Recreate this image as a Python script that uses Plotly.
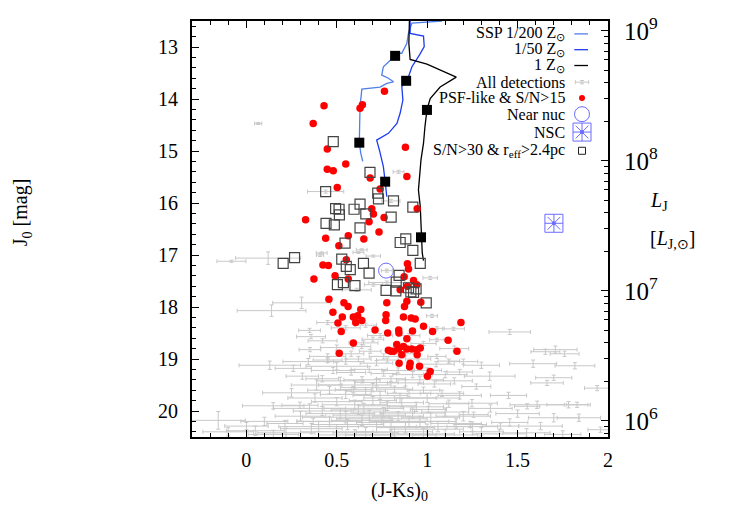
import plotly.graph_objects as go

FONT = "Liberation Serif, Times New Roman, serif"

# ---------------- SSP tracks ----------------
ssp200_x = [1.082, 0.916, 0.897, 0.888, 0.860, 0.832, 0.823, 0.758, 0.749, 0.786, 0.814, 0.777, 0.740, 0.639, 0.629, 0.625, 0.633, 0.644]
ssp200_y = [12.50, 12.54, 12.73, 12.93, 13.12, 13.12, 13.17, 13.38, 13.54, 13.60, 13.67, 13.70, 13.77, 13.81, 14.15, 14.84, 15.04, 15.20]

ssp50_x = [0.906, 0.906, 0.980, 0.984, 0.958, 0.916, 0.897, 0.884, 0.860, 0.866, 0.851, 0.833, 0.786, 0.721, 0.736, 0.758, 0.768, 0.777]
ssp50_y = [12.50, 12.74, 12.79, 12.99, 13.15, 13.38, 13.57, 13.65, 13.76, 14.02, 14.27, 14.47, 14.66, 14.79, 14.98, 15.30, 15.59, 15.88]

ssp1_x = [0.902, 0.899, 0.906, 0.999, 1.161, 1.072, 1.017, 0.999, 0.988, 0.980, 0.966, 0.958, 0.952, 0.962, 0.966, 0.966, 0.973, 0.980]
ssp1_y = [12.50, 12.93, 13.24, 13.33, 13.58, 13.77, 13.99, 14.21, 14.53, 14.85, 15.17, 15.49, 15.75, 16.07, 16.45, 16.66, 16.96, 17.11]

# age markers on the tracks
age_x = [0.823, 0.625, 0.884, 0.768, 0.999, 0.966]
age_y = [13.17, 14.84, 13.65, 15.59, 14.21, 16.66]

# ---------------- All detections (with errors) ----------------
all_x = [0.066, 0.842, 0.439, 0.800, 0.638, 0.702, 0.620, 0.417, -0.082, 0.121, 0.408, 0.777, 1.017, 0.611, 0.703, 0.777,
         0.306, 0.140, 1.027, 1.054, 1.146, 1.457, 0.358, 0.422, 0.352, 0.648, 0.638, 0.685, 1.054, 1.054,
         1.709, 1.654, 1.760, 1.586, 1.817, 1.346, 1.700, 1.663, 1.272, 1.940, 1.082, 1.608, 1.553, 1.782, 1.829,
         1.248, 1.007, 1.257, 1.700, 1.839, 1.457, 1.238, 1.405, 1.627, 1.959,
         0.343, 0.130, 0.260, 0.310, 0.500, 0.389, 0.592, 0.149, 0.297, -0.155, 0.001, 0.214, 0.370,
         0.45, 0.55, 0.62, 0.72, 0.78, 0.95, 1.05, 1.12, 0.48, 0.58, 0.68, 0.76, 0.84, 0.92, 1.00, 1.10, 1.18,
         0.42, 0.52, 0.64, 0.72, 0.80, 0.88, 0.96, 1.04, 1.15, 0.46, 0.55, 0.66, 0.74, 0.82, 0.90, 0.98, 1.18,
         0.38, 0.50, 0.60, 0.70, 0.78, 0.86, 0.94, 1.12, 0.42, 0.52, 0.62, 0.68, 0.76, 0.84, 0.92, 1.02, 1.10,
         1.20, 0.30, 0.46, 0.56, 0.64, 0.72, 0.80, 0.88, 0.96, 1.06, 1.16, 0.36, 0.50, 0.66, 0.82, 0.98, 1.30,
         0.22, 0.10, 0.55, 0.66, 0.74, 0.90, 0.98, 0.50, 0.58, 0.76, 0.88, 1.15, 0.45,
         0.60, 0.70, 0.85, 0.65, 0.75, 0.90, 0.55, 1.00, 0.40, 0.80, 0.60, 1.10, 0.35, 1.00, 0.25,
         1.25, 1.40, 1.55, 1.75, 0.15, 0.05, -0.10, 1.35, 1.45, 1.50, 0.45, 0.70, 0.35, 1.20, 1.30]
all_y = [14.47, 15.40, 15.78, 15.96, 16.90, 17.02, 16.95, 16.96, 17.12, 17.06, 17.00, 17.30, 17.44, 17.67, 17.57, 17.53,
         17.92, 18.07, 18.17, 18.41, 18.42, 18.48, 18.57, 18.65, 18.82, 18.69, 18.76, 18.85, 18.63, 18.95,
         18.82, 18.86, 18.90, 19.09, 19.13, 19.33, 19.36, 19.46, 19.53, 19.56, 19.66, 19.88, 19.91, 19.88, 19.88,
         19.85, 19.97, 20.07, 20.13, 20.13, 20.22, 20.26, 20.29, 20.29, 20.36,
         19.05, 19.12, 19.18, 19.33, 19.14, 19.50, 19.59, 19.90, 19.89, 20.18, 20.29, 20.24, 20.20,
         19.02, 19.05, 19.00, 19.08, 19.02, 19.00, 19.10, 19.04, 19.22, 19.26, 19.20, 19.28, 19.22, 19.30, 19.22, 19.30, 19.25,
         19.38, 19.42, 19.40, 19.45, 19.38, 19.46, 19.40, 19.48, 19.42, 19.60, 19.68, 19.62, 19.70, 19.58, 19.66, 19.60, 19.70,
         19.75, 19.82, 19.88, 19.80, 19.90, 19.84, 19.92, 19.86, 20.00, 20.05, 19.98, 20.08, 20.02, 20.10, 20.04, 20.12, 20.02,
         20.10, 20.10, 20.20, 20.26, 20.18, 20.30, 20.22, 20.32, 20.20, 20.30, 20.24, 20.34, 20.40, 20.42, 20.40, 20.44, 20.40,
         20.42, 20.20, 18.40, 18.35, 18.55, 18.55, 18.70, 18.78, 18.90, 18.95, 18.90, 18.80, 18.30,
         19.50, 19.55, 19.75, 19.95, 20.15, 20.20, 20.12, 20.35, 20.30, 20.46, 20.46, 20.46, 19.95, 19.75, 19.65,
         20.30, 20.44, 20.42, 20.45, 20.45, 20.38, 20.40, 19.95, 19.70, 20.05, 18.95, 18.62, 18.45, 19.05, 19.12]
all_xerr = [0.02, 0.03, 0.10, 0.05, 0.03, 0.04, 0.03, 0.03, 0.08, 0.18, 0.02, 0.03, 0.04, 0.08, 0.05, 0.10,
            0.16, 0.19, 0.03, 0.04, 0.06, 0.115, 0.08, 0.08, 0.06, 0.08, 0.05, 0.06, 0.04, 0.05,
            0.12, 0.08, 0.08, 0.13, 0.11, 0.14, 0.10, 0.09, 0.08, 0.07, 0.12, 0.15, 0.07, 0.12, 0.06,
            0.14, 0.10, 0.08, 0.14, 0.12, 0.10, 0.09, 0.10, 0.12, 0.07,
            0.14, 0.17, 0.10, 0.09, 0.17, 0.14, 0.10, 0.17, 0.10, 0.15, 0.12, 0.10, 0.09,
            0.08, 0.10, 0.07, 0.09, 0.06, 0.07, 0.10, 0.06, 0.12, 0.08, 0.10, 0.07, 0.09, 0.11, 0.08, 0.12, 0.07,
            0.09, 0.13, 0.10, 0.12, 0.08, 0.10, 0.13, 0.09, 0.10, 0.12, 0.14, 0.11, 0.15, 0.10, 0.12, 0.09, 0.12,
            0.15, 0.14, 0.18, 0.13, 0.16, 0.12, 0.15, 0.11, 0.16, 0.19, 0.15, 0.20, 0.17, 0.14, 0.18, 0.16, 0.13,
            0.15, 0.14, 0.18, 0.20, 0.17, 0.22, 0.19, 0.16, 0.20, 0.18, 0.14, 0.17, 0.20, 0.18, 0.21, 0.17, 0.12,
            0.16, 0.13, 0.08, 0.06, 0.07, 0.06, 0.07, 0.09, 0.07, 0.08, 0.06, 0.08, 0.06,
            0.20, 0.18, 0.20, 0.22, 0.25, 0.22, 0.24, 0.20, 0.22, 0.25, 0.20, 0.18, 0.20, 0.18, 0.16,
            0.14, 0.15, 0.13, 0.10, 0.14, 0.16, 0.14, 0.12, 0.10, 0.12, 0.10, 0.06, 0.06, 0.08, 0.10]
all_yerr = [0.02, 0.03, 0.03, 0.03, 0.02, 0.02, 0.02, 0.02, 0.02, 0.12, 0.03, 0.03, 0.03, 0.03, 0.03, 0.03,
            0.11, 0.11, 0.03, 0.03, 0.03, 0.05, 0.04, 0.04, 0.04, 0.04, 0.04, 0.04, 0.03, 0.04,
            0.07, 0.05, 0.05, 0.07, 0.06, 0.08, 0.05, 0.05, 0.05, 0.05, 0.06, 0.07, 0.05, 0.06, 0.05,
            0.07, 0.06, 0.05, 0.08, 0.07, 0.07, 0.06, 0.06, 0.07, 0.05,
            0.06, 0.08, 0.06, 0.06, 0.07, 0.10, 0.06, 0.06, 0.06, 0.17, 0.07, 0.06, 0.06,
            0.05, 0.05, 0.05, 0.05, 0.04, 0.04, 0.05, 0.04, 0.06, 0.05, 0.06, 0.05, 0.05, 0.06, 0.05, 0.06, 0.05,
            0.06, 0.07, 0.06, 0.07, 0.05, 0.06, 0.07, 0.06, 0.06, 0.07, 0.08, 0.07, 0.08, 0.06, 0.07, 0.06, 0.07,
            0.08, 0.08, 0.09, 0.08, 0.09, 0.08, 0.09, 0.07, 0.09, 0.10, 0.09, 0.10, 0.09, 0.09, 0.10, 0.09, 0.08,
            0.09, 0.09, 0.10, 0.10, 0.10, 0.11, 0.10, 0.10, 0.10, 0.10, 0.09, 0.10, 0.10, 0.10, 0.10, 0.10, 0.08,
            0.09, 0.08, 0.04, 0.04, 0.04, 0.04, 0.04, 0.05, 0.05, 0.05, 0.04, 0.05, 0.04,
            0.08, 0.08, 0.09, 0.10, 0.11, 0.10, 0.11, 0.10, 0.10, 0.10, 0.10, 0.10, 0.09, 0.09, 0.08,
            0.09, 0.08, 0.08, 0.07, 0.08, 0.09, 0.08, 0.07, 0.06, 0.07, 0.05, 0.04, 0.04, 0.05, 0.06]

# ---------------- PSF-like & S/N>15 ----------------
psf_x = [0.430, 0.370, 0.448, 0.448, 0.328, 0.439, 0.642, 0.629, 0.764, 0.880, 0.550, 0.481, 0.888, 0.685, 0.503,
         0.740, 0.694, 0.703, 0.762, 0.679, 0.945, 0.734, 0.564, 0.650, 0.512, 0.891, 0.897, 0.873, 0.925, 0.564,
         0.491, 0.891, 0.943, 0.424, 0.454, 0.553, 0.374, 0.457, 0.540, 0.563, 0.479, 0.531, 0.507, 0.525, 0.514,
         0.633, 0.592, 0.616, 0.639, 0.605, 0.777, 0.888, 0.965, 0.875, 0.773, 0.771, 0.869, 0.912, 0.934, 0.980,
         1.030, 0.843, 0.844, 0.919, 0.782, 0.712, 0.888, 0.832, 0.592, 0.786, 0.814, 0.841, 0.869, 0.888, 0.915,
         0.943, 0.962, 1.116, 1.187, 0.851, 1.165, 0.860, 0.845, 0.906, 0.903, 0.958, 1.017, 1.002, 0.945, 0.799]
psf_y = [14.13, 14.47, 14.96, 15.35, 16.32, 16.68, 14.11, 14.18, 13.85, 14.93, 15.25, 15.38, 15.49, 15.52, 15.70,
         15.73, 16.11, 16.21, 16.28, 16.36, 16.11, 16.56, 16.63, 16.69, 16.82, 17.17, 17.27, 17.42, 17.49, 17.46,
         17.40, 17.60, 17.57, 17.19, 17.20, 17.09, 17.46, 17.85, 17.92, 17.99, 18.10, 18.19, 18.31, 18.47, 18.89,
         18.05, 18.19, 18.17, 18.26, 18.30, 17.92, 17.89, 17.91, 17.99, 18.15, 18.26, 18.19, 18.21, 18.23, 18.37,
         18.47, 18.44, 18.50, 18.46, 18.50, 18.44, 18.61, 18.72, 18.69, 18.83, 18.85, 18.81, 18.76, 18.81, 18.81,
         18.82, 18.79, 18.64, 18.30, 17.67, 18.85, 18.92, 19.08, 19.08, 19.15, 19.14, 19.24, 19.33, 18.92, 18.85]

# ---------------- S/N>30 & r_eff>2.4pc ----------------
big_x = [0.439, 0.441, 0.481, 0.684, 0.727, 0.731, 0.629, 0.494, 0.513, 0.515, 0.596, 0.661, 0.801, 0.487, 0.629,
         0.921, 0.851, 0.882, 0.921, 0.546, 0.528, 0.553, 0.575, 0.648, 0.679, 0.537, 0.504, 0.962, 0.601, 0.814,
         0.204, 0.267, 0.845, 0.829, 0.773, 0.827, 0.897, 0.939, 0.910, 0.925, 0.995]
big_y = [15.78, 16.39, 14.82, 15.41, 15.81, 15.92, 16.02, 16.11, 16.12, 16.23, 16.12, 16.21, 16.27, 16.42, 16.48,
         16.08, 16.76, 16.69, 16.91, 16.77, 17.08, 17.22, 17.28, 17.16, 17.35, 17.53, 17.57, 17.16, 17.59, 15.96,
         17.16, 17.05, 17.39, 17.52, 17.68, 17.69, 17.63, 17.65, 17.71, 17.72, 17.92]

nearnuc_x = [0.773]
nearnuc_y = [17.30]
nsc_x = [1.701]
nsc_y = [16.39]

# legend labels
leg_labels = ["SSP 1/200 Z<sub>⊙</sub>", "1/50 Z<sub>⊙</sub>", "1 Z<sub>⊙</sub>", "All detections",
              "PSF-like &amp; S/N&gt;15", "Near nuc", "NSC", "S/N&gt;30 &amp; r<sub>eff</sub>&gt;2.4pc"]

# right axis: L_J = 10^(8 - 0.4 (J - J8))
J8 = 15.19
Jrange = [20.5, 12.5]
Lrange = [8 - 0.4 * (Jrange[0] - J8), 8 - 0.4 * (Jrange[1] - J8)]

C200 = "#4f7fe8"
C50 = "#1e3cf0"
CNUC = "#6b6bff"
GRAY = "#c8c8c8"

fig = go.Figure()

fig.add_trace(go.Scatter(x=all_x, y=all_y, mode="markers",
                         marker=dict(size=0, color=GRAY, opacity=0),
                         error_x=dict(type="data", array=all_xerr, color=GRAY, thickness=1, width=2),
                         error_y=dict(type="data", array=all_yerr, color=GRAY, thickness=1, width=2),
                         showlegend=False))
fig.add_trace(go.Scatter(x=ssp200_x, y=ssp200_y, mode="lines", line=dict(color=C200, width=1.3), showlegend=False))
fig.add_trace(go.Scatter(x=ssp50_x, y=ssp50_y, mode="lines", line=dict(color=C50, width=1.3), showlegend=False))
fig.add_trace(go.Scatter(x=ssp1_x, y=ssp1_y, mode="lines", line=dict(color="black", width=1.3), showlegend=False))
fig.add_trace(go.Scatter(x=psf_x, y=psf_y, mode="markers",
                         marker=dict(size=7.5, color="#ff0000", line=dict(width=0)), showlegend=False))
fig.add_trace(go.Scatter(x=big_x, y=big_y, mode="markers",
                         marker=dict(size=10, symbol="square-open", color="#444444", line=dict(width=1.2)),
                         showlegend=False))
fig.add_trace(go.Scatter(x=age_x, y=age_y, mode="markers",
                         marker=dict(size=10, symbol="square", color="black"), showlegend=False))
fig.add_trace(go.Scatter(x=nearnuc_x, y=nearnuc_y, mode="markers",
                         marker=dict(size=15, symbol="circle-open", color=CNUC, line=dict(width=1)),
                         showlegend=False))
for sym, sz in [("square-open", 18), ("asterisk-open", 15), ("circle", 3)]:
    fig.add_trace(go.Scatter(x=nsc_x, y=nsc_y, mode="markers",
                             marker=dict(size=sz, symbol=sym, color=CNUC, line=dict(width=1, color=CNUC)),
                             showlegend=False))

# dummy trace to activate the right log axis
fig.add_trace(go.Scatter(x=[None], y=[None], yaxis="y2", showlegend=False))

# ---------- custom legend (symbols to the right of right-aligned text) ----------
rows_y = [0.969, 0.931, 0.893, 0.853, 0.815, 0.776, 0.733, 0.688]
tx = 0.901
sx = 0.9375
for lab, ry in zip(leg_labels, rows_y):
    fig.add_annotation(x=tx, y=ry, xref="paper", yref="paper", text=lab, showarrow=False,
                       xanchor="right", yanchor="middle", font=dict(family=FONT, size=16, color="black"))

for col, ry in [(C200, rows_y[0]), (C50, rows_y[1]), ("black", rows_y[2])]:
    fig.add_trace(go.Scatter(x=[0.919, 0.952], y=[ry, ry], xaxis="x3", yaxis="y3", mode="lines",
                             line=dict(color=col, width=1.3), showlegend=False))
fig.add_trace(go.Scatter(x=[sx], y=[rows_y[3]], xaxis="x3", yaxis="y3", mode="markers",
                         marker=dict(size=0, color=GRAY, opacity=0),
                         error_x=dict(type="data", array=[0.016], color=GRAY, thickness=1, width=2),
                         error_y=dict(type="data", array=[0.004], color=GRAY, thickness=1, width=2),
                         showlegend=False, cliponaxis=False))
fig.add_trace(go.Scatter(x=[sx], y=[rows_y[4]], xaxis="x3", yaxis="y3", mode="markers",
                         marker=dict(size=6, color="#ff0000"), showlegend=False, cliponaxis=False))
fig.add_trace(go.Scatter(x=[sx], y=[rows_y[5]], xaxis="x3", yaxis="y3", mode="markers",
                         marker=dict(size=15, symbol="circle-open", color=CNUC, line=dict(width=1)),
                         showlegend=False, cliponaxis=False))
for sym, sz in [("square-open", 18), ("asterisk-open", 15), ("circle", 3)]:
    fig.add_trace(go.Scatter(x=[sx], y=[rows_y[6]], xaxis="x3", yaxis="y3", mode="markers",
                             marker=dict(size=sz, symbol=sym, color=CNUC, line=dict(width=1, color=CNUC)),
                             showlegend=False, cliponaxis=False))
fig.add_trace(go.Scatter(x=[sx], y=[rows_y[7]], xaxis="x3", yaxis="y3", mode="markers",
                         marker=dict(size=7, symbol="square-open", color="#222222", line=dict(width=1)),
                         showlegend=False, cliponaxis=False))

# ---------- axis titles ----------
fig.add_annotation(x=-0.409, y=0.54, xref="paper", yref="paper", text="J<sub>0</sub> [mag]", textangle=-90,
                   xanchor="center", yanchor="middle",
                   showarrow=False, font=dict(family=FONT, size=20, color="black"))
fig.add_annotation(x=0.499, y=-0.13, xref="paper", yref="paper", text="(J-Ks)<sub>0</sub>",
                   xanchor="center", yanchor="middle",
                   showarrow=False, font=dict(family=FONT, size=20, color="black"))
fig.add_annotation(x=1.095, y=0.566, xref="paper", yref="paper", text="<i>L</i><sub>J</sub>", xanchor="left",
                   yanchor="middle", showarrow=False, font=dict(family=FONT, size=20, color="black"))
fig.add_annotation(x=1.095, y=0.474, xref="paper", yref="paper", text="[<i>L</i><sub>J,⊙</sub>]", xanchor="left",
                   yanchor="middle", showarrow=False, font=dict(family=FONT, size=20, color="black"))

tickfont = dict(family=FONT, size=20, color="black")
fig.update_layout(
    width=750, height=525, template="none",
    font=dict(family=FONT, size=20, color="black"),
    paper_bgcolor="white", plot_bgcolor="white",
    margin=dict(l=192, r=142, t=21, b=88),
    showlegend=False,
    xaxis=dict(range=[-0.3, 2.0], tick0=0, dtick=0.5, ticks="inside", ticklen=7, tickwidth=1,
               tickcolor="black", minor=dict(dtick=0.1, ticks="inside", ticklen=4, tickcolor="black"),
               showline=True, linewidth=2, linecolor="black", mirror="ticks", showgrid=False,
               zeroline=False, tickfont=tickfont, automargin=False, ticklabelstandoff=4),
    yaxis=dict(range=Jrange, tick0=13, dtick=1, ticks="inside", ticklen=7, tickwidth=1,
               tickcolor="black", minor=dict(dtick=0.2, ticks="inside", ticklen=4, tickcolor="black"),
               showline=True, linewidth=2, linecolor="black", mirror=True, showgrid=False,
               zeroline=False, tickfont=tickfont, automargin=False, ticklabelstandoff=8),
    yaxis2=dict(overlaying="y", side="right", anchor="x", type="log", range=Lrange, dtick=1,
                exponentformat="power", showexponent="all", ticks="inside", ticklen=7, tickwidth=1,
                tickcolor="black", minor=dict(dtick="D1", ticks="inside", ticklen=4, tickcolor="black"),
                showline=True, linewidth=2, linecolor="black", showgrid=False, zeroline=False,
                tickfont=tickfont, automargin=False, ticklabelstandoff=10),
    xaxis3=dict(overlaying="x", range=[0, 1], visible=False, automargin=False),
    yaxis3=dict(overlaying="y", range=[0, 1], visible=False, automargin=False, anchor="x3"),
)

fig.write_html("out.html")
